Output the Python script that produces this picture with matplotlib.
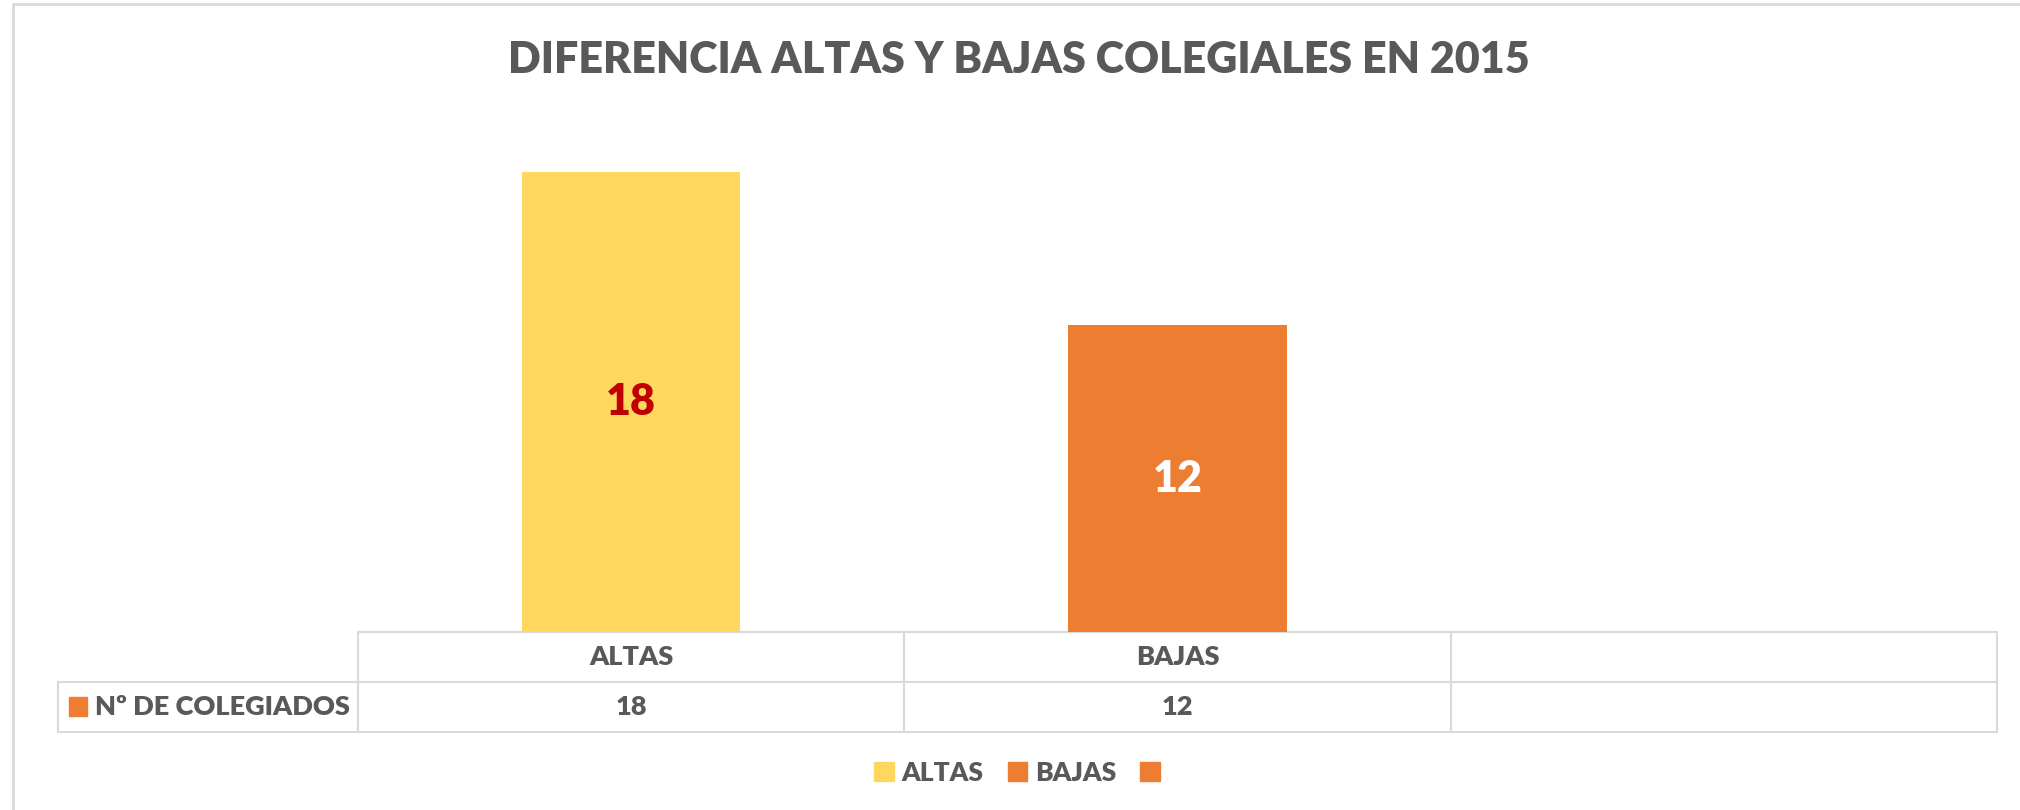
"""Diferencia altas y bajas colegiales 2015"""
import matplotlib
matplotlib.use("Agg")
import matplotlib.pyplot as plt
from matplotlib.patches import Patch, Rectangle
from matplotlib.lines import Line2D
from matplotlib.table import Table

plt.rcParams['font.family'] = ['Lato', 'DejaVu Sans']

# datos
categorias = ["ALTAS", "BAJAS", ""]
valores = [18, 12]
serie = "Nº DE COLEGIADOS"
titulo = "DIFERENCIA ALTAS Y BAJAS COLEGIALES EN 2015"

colores = ["#FFD75E", "#ED7D31"]
color_etiquetas = ["#C00000", "white"]
gris = "#595959"
borde = "#D9D9D9"

W, H = 2020, 810
fig = plt.figure(figsize=(W / 100, H / 100), dpi=100)


def fx(px):
    return px / W


def fy(py):
    return 1 - py / H


# marco exterior del grafico
fig.add_artist(Line2D([fx(13), fx(13), fx(W)], [fy(H), fy(4), fy(4)],
                      color=borde, lw=2, transform=fig.transFigure))

# titulo
fig.text(fx(1019), fy(60), titulo, ha='center', va='center',
         fontsize=31, fontweight='heavy', color=gris)

# area de barras
ax = fig.add_axes([fx(358), fy(632), fx(1997) - fx(358), fy(121) - fy(632)])
x = list(range(len(valores)))
ax.bar(x, valores, width=0.4, color=colores)
ax.set_xlim(-0.5, len(categorias) - 0.5)
ax.set_ylim(0, 20)
ax.axis('off')

for i, v in enumerate(valores):
    ax.text(i, v / 2, str(v), ha='center', va='center', fontsize=31,
            fontweight='heavy', color=color_etiquetas[i])

# tabla de datos
ancho_total = 1997 - 358
tbl = Table(ax, bbox=[(58 - 358) / ancho_total, -100 / 511,
                      (1997 - 58) / ancho_total, 100 / 511])
tbl.auto_set_font_size(False)
ancho_etiqueta = 300
ancho_col = 546
for j, cat in enumerate(categorias):
    tbl.add_cell(0, j + 1, ancho_col, 50, text=cat, loc='center')
for j in range(len(categorias)):
    txt = str(valores[j]) if j < len(valores) else ""
    tbl.add_cell(1, j + 1, ancho_col, 50, text=txt, loc='center')
c = tbl.add_cell(1, 0, ancho_etiqueta, 50, text=serie, loc='left')
c.PAD = 37 / ancho_etiqueta
for cell in tbl.get_celld().values():
    cell.set_edgecolor(borde)
    cell.set_linewidth(1.5)
    cell.get_text().set_fontsize(19.5)
    cell.get_text().set_fontweight('heavy')
    cell.get_text().set_color(gris)
ax.add_table(tbl)

# clave de color de la fila
fig.add_artist(Rectangle((fx(69), fy(716)), fx(87) - fx(69), fy(697) - fy(716),
                         color=colores[1], transform=fig.transFigure))

# leyenda
handles = [Patch(color=colores[0]), Patch(color=colores[1]), Patch(color=colores[1])]
fig.legend(handles, categorias, loc='center', bbox_to_anchor=(fx(1021), fy(773)),
           ncol=3, frameon=False, handlelength=0.75, handleheight=0.75,
           handletextpad=0.3, columnspacing=0.9,
           prop={'size': 19, 'weight': 'heavy'}, labelcolor=gris)

plt.savefig('out.png', dpi=100)
plt.close()
